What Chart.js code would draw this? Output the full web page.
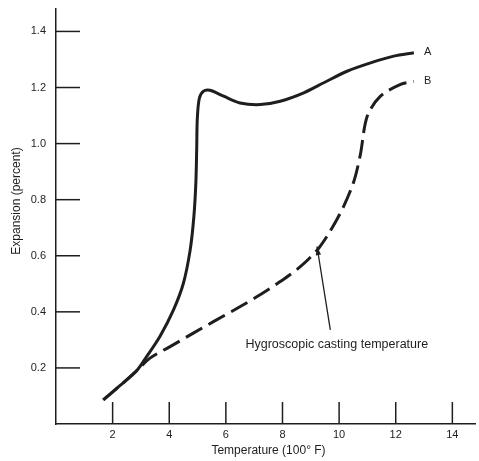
<!DOCTYPE html>
<html>
<head>
<meta charset="utf-8">
<script src="https://cdn.jsdelivr.net/npm/chart.js@4.4.1/dist/chart.umd.min.js"></script>
<style>
  html, body { margin: 0; padding: 0; background: #fff; }
  #wrap { width: 479px; height: 461px; }
</style>
</head>
<body>
<div id="wrap"><canvas id="chart" width="479" height="461"></canvas></div>
<script>
// Expansion vs temperature, curves A (solid) and B (dashed)
const curveA_x = [1.67, 2.3, 2.85, 3.2, 3.67, 4.15, 4.5, 4.74, 4.87, 4.94, 4.97, 4.99, 5.06, 5.21, 5.44, 5.92, 6.5, 7.21, 7.92, 8.75, 9.46, 10.28, 11.11, 11.93, 12.64];
const curveA_y = [0.086, 0.14, 0.19, 0.24, 0.312, 0.407, 0.502, 0.621, 0.74, 0.86, 0.98, 1.086, 1.16, 1.187, 1.19, 1.169, 1.145, 1.139, 1.151, 1.181, 1.217, 1.258, 1.288, 1.312, 1.324];

const curveB_x = [1.67, 2.3, 2.85, 3.32, 4.03, 4.85, 5.56, 6.51, 7.21, 7.92, 8.64, 9.28, 9.75, 10.16, 10.52, 10.75, 10.99, 11.46, 12.17, 12.64];
const curveB_y = [0.086, 0.14, 0.19, 0.235, 0.276, 0.324, 0.365, 0.419, 0.461, 0.508, 0.562, 0.627, 0.699, 0.776, 0.865, 0.96, 1.097, 1.169, 1.211, 1.222];

const xTicks = [2, 4, 6, 8, 10, 12, 14];
const yTicks = [0.2, 0.4, 0.6, 0.8, 1.0, 1.2, 1.4];

const xTitle = 'Temperature (100° F)';
const yTitle = 'Expansion (percent)';
const noteText = 'Hygroscopic casting temperature';
const noteAt = { x: 6.69, y: 0.282 };
const arrowFrom = { x: 9.69, y: 0.336 };
const arrowTo = { x: 9.22, y: 0.633 };
const curveLabels = [{ text: 'A', x: 13.0, y: 1.325 }, { text: 'B', x: 13.0, y: 1.222 }];

const INK = '#1e1e1e';
const FONT = "'Liberation Sans', Arial, sans-serif";

const toPts = (xs, ys) => xs.map((x, i) => ({ x, y: ys[i] }));

// inward tick marks, axis titles, curve labels and the arrow note
const extras = {
  id: 'extras',
  afterDraw(chart) {
    const { ctx, scales: { x, y } } = chart;
    ctx.save();
    ctx.strokeStyle = INK;
    ctx.lineWidth = 1.5;
    yTicks.forEach(v => {
      const py = y.getPixelForValue(v);
      ctx.beginPath(); ctx.moveTo(x.left, py); ctx.lineTo(x.left + 24, py); ctx.stroke();
    });
    xTicks.forEach(v => {
      const px = x.getPixelForValue(v);
      ctx.beginPath(); ctx.moveTo(px, y.bottom); ctx.lineTo(px, y.bottom - 22); ctx.stroke();
    });

    ctx.fillStyle = INK;
    ctx.textBaseline = 'middle';

    // axis titles
    ctx.font = '12px ' + FONT;
    ctx.textAlign = 'center';
    ctx.fillText(xTitle, (x.left + x.right) / 2 + 3, y.bottom + 27);
    ctx.save();
    ctx.translate(17, 201);
    ctx.rotate(-Math.PI / 2);
    ctx.fillText(yTitle, 0, 0);
    ctx.restore();

    ctx.textAlign = 'left';
    ctx.font = '11px ' + FONT;
    curveLabels.forEach(l => {
      ctx.fillText(l.text, x.getPixelForValue(l.x), y.getPixelForValue(l.y));
    });
    ctx.font = '12.5px ' + FONT;
    ctx.fillText(noteText, x.getPixelForValue(noteAt.x), y.getPixelForValue(noteAt.y));

    // arrow
    const x0 = x.getPixelForValue(arrowFrom.x), y0 = y.getPixelForValue(arrowFrom.y);
    const x1 = x.getPixelForValue(arrowTo.x), y1 = y.getPixelForValue(arrowTo.y);
    ctx.lineWidth = 1.3;
    ctx.beginPath(); ctx.moveTo(x0, y0); ctx.lineTo(x1, y1); ctx.stroke();
    const ang = Math.atan2(y1 - y0, x1 - x0);
    ctx.beginPath();
    ctx.moveTo(x1, y1);
    ctx.lineTo(x1 - 9 * Math.cos(ang - 0.3), y1 - 9 * Math.sin(ang - 0.3));
    ctx.lineTo(x1 - 9 * Math.cos(ang + 0.3), y1 - 9 * Math.sin(ang + 0.3));
    ctx.closePath();
    ctx.fill();
    ctx.restore();
  }
};

new Chart(document.getElementById('chart'), {
  type: 'line',
  data: {
    datasets: [
      {
        data: toPts(curveA_x, curveA_y),
        borderColor: INK,
        borderWidth: 3,
        pointRadius: 0,
        pointHoverRadius: 0,
        tension: 0.3,
      },
      {
        data: toPts(curveB_x, curveB_y),
        borderColor: INK,
        borderWidth: 3,
        borderDash: [19, 7],
        pointRadius: 0,
        pointHoverRadius: 0,
        tension: 0.3,
      },
    ],
  },
  options: {
    responsive: false,
    animation: false,
    layout: { padding: { top: 9, right: 4, left: 0, bottom: 0 } },
    plugins: { legend: { display: false }, tooltip: { enabled: false } },
    scales: {
      x: {
        type: 'linear',
        min: 0,
        max: 14.8,
        afterBuildTicks: s => { s.ticks = xTicks.map(v => ({ value: v })); },
        afterFit: s => { s.height = 37; s.paddingLeft = 0; s.paddingRight = 0; },
        grid: { display: false, drawTicks: false, tickLength: 0 },
        border: { color: INK, width: 1.5 },
        ticks: { color: INK, font: { family: FONT, size: 11 }, padding: 4 },
      },
      y: {
        type: 'linear',
        min: 0,
        max: 1.48,
        afterBuildTicks: s => { s.ticks = yTicks.map(v => ({ value: v })); },
        afterFit: s => { s.width = 56; s.paddingTop = 0; s.paddingBottom = 0; },
        grid: { display: false, drawTicks: false, tickLength: 0 },
        border: { color: INK, width: 1.5 },
        ticks: { color: INK, font: { family: FONT, size: 11 }, padding: 10, callback: v => v.toFixed(1) },
      },
    },
  },
  plugins: [extras],
});
</script>
</body>
</html>
